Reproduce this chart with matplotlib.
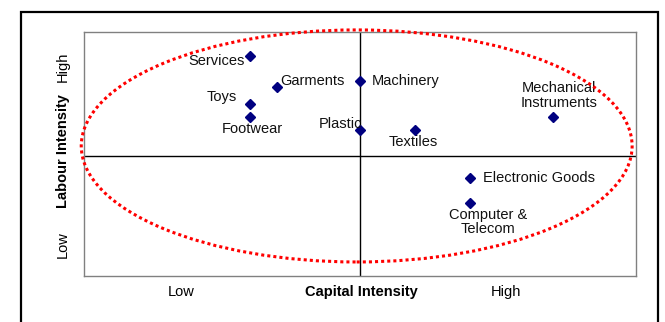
import matplotlib.pyplot as plt
from matplotlib.patches import Ellipse, Rectangle

plt.rcParams['font.family'] = ['Liberation Sans', 'DejaVu Sans']

sectors = ["Services", "Garments", "Toys", "Footwear", "Machinery", "Plastic",
           "Textiles", "Mechanical\nInstruments", "Electronic Goods", "Computer &\nTelecom"]
capital = [3.0, 3.5, 3.0, 3.0, 5.0, 5.0, 6.0, 8.5, 7.0, 7.0]
labour = [9.0, 7.75, 7.05, 6.5, 8.0, 6.0, 6.0, 6.5, 4.0, 3.0]

# label offsets in pixels and alignment
offs = [(-5, -5, 'right'), (3, 6, 'left'), (-13, 7, 'right'), (3, -12, 'center'),
        (12, 0, 'left'), (-19, 6, 'center'), (-2, -12, 'center'), (6, 22, 'center'),
        (13, 0, 'left'), (18, -19, 'center')]

FS = 10.5

fig = plt.figure(figsize=(6.65, 3.22), dpi=100)
fig.patches.append(Rectangle((21/665, -0.1), 637/665, 1.1 - 12/322, transform=fig.transFigure,
                             fill=False, edgecolor='black', linewidth=1.6))

ax = fig.add_axes([84/665, 1-276/322, 552/665, 244/322])
ax.set_xlim(0, 10)
ax.set_ylim(0, 10)
ax.set_xticks([])
ax.set_yticks([])
for s in ax.spines.values():
    s.set_color('#808080')
    s.set_linewidth(1)

ax.axvline(5, color='black', linewidth=1)
ax.axhline(4.92, color='black', linewidth=1)

ax.plot(capital, labour, 'D', color='#000080', markersize=5.5, zorder=3)

for name, x, y, (dx, dy, ha) in zip(sectors, capital, labour, offs):
    ax.annotate(name, (x, y), xytext=(dx, dy), textcoords='offset pixels',
                ha=ha, va='center', fontsize=FS, color='#111111', linespacing=1.05)

ell = Ellipse((4.94, 5.33), 9.98, 9.51, fill=False, edgecolor='#ff0000',
              linewidth=2.2, linestyle=(0, (1, 1)), clip_on=False, zorder=4)
ax.add_patch(ell)

fig.text(63/665, 1-151/322, "Labour Intensity", rotation=90, ha='center', va='center',
         fontsize=FS, fontweight='bold')
fig.text(63/665, 1-67/322, "High", rotation=90, ha='center', va='center', fontsize=FS)
fig.text(63/665, 1-245/322, "Low", rotation=90, ha='center', va='center', fontsize=FS)
fig.text(181/665, 1-292/322, "Low", ha='center', va='center', fontsize=FS)
fig.text(361/665, 1-292/322, "Capital Intensity", ha='center', va='center',
         fontsize=FS, fontweight='bold')
fig.text(506/665, 1-292/322, "High", ha='center', va='center', fontsize=FS)

fig.savefig("out.png", dpi=100)
